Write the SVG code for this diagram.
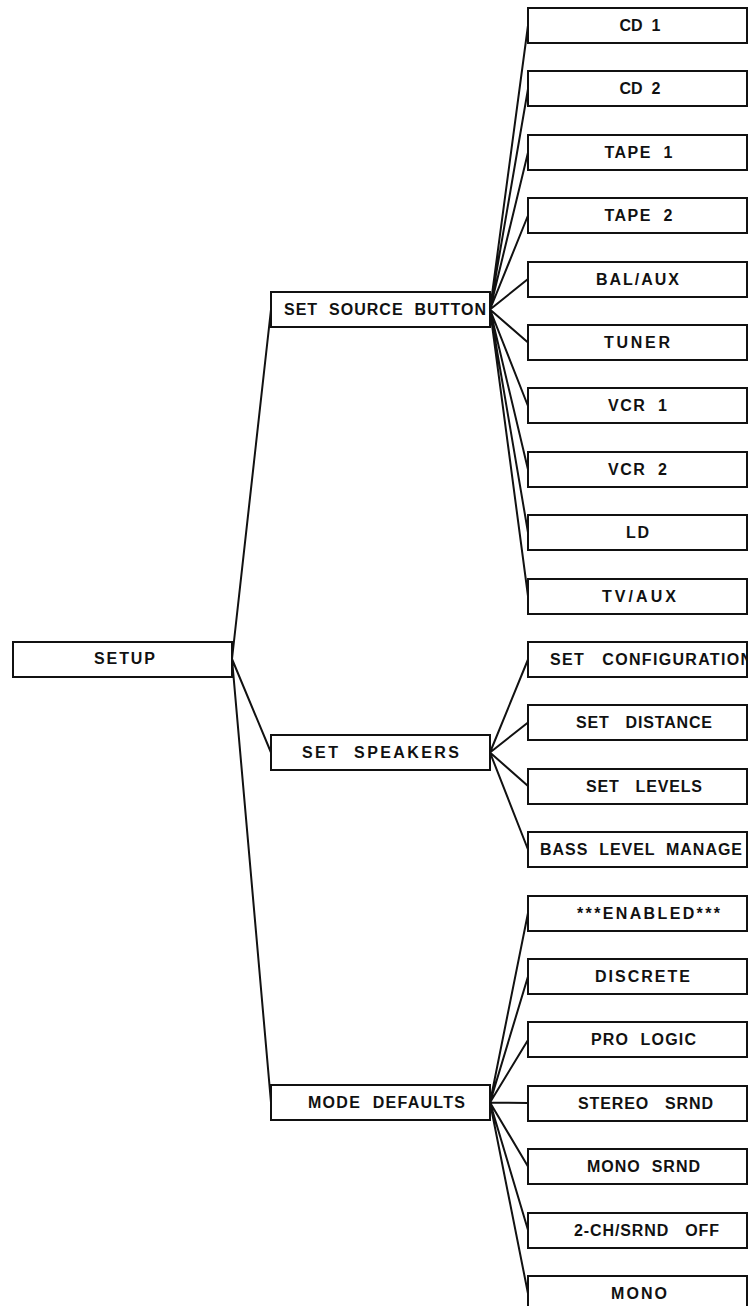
<svg xmlns="http://www.w3.org/2000/svg" width="748" height="1306" viewBox="0 0 748 1306">
<style>
.box{fill:#fff;stroke:#111;stroke-width:2}
.t{font-family:"Liberation Sans",Arial,sans-serif;font-weight:bold;font-size:16px;fill:#111;white-space:pre;text-anchor:middle}
.ts{text-anchor:start}
.c{stroke:#111;stroke-width:2;fill:none}
</style>
<defs>
<clipPath id="clipR"><rect x="529" y="0" width="217" height="1306"/></clipPath>
</defs>
<g id="connectors">
<path class="c" d="M232 659L271 309.5M232 659L271 752.5M232 659L271 1102.5"/>
<path class="c" d="M490 309.5L528 25.5M490 309.5L528 89M490 309.5L528 152.5M490 309.5L528 215.5M490 309.5L528 279M490 309.5L528 342.5M490 309.5L528 406M490 309.5L528 469.5M490 309.5L528 532.5M490 309.5L528 596"/>
<path class="c" d="M490 752.5L528 659.5M490 752.5L528 722.5M490 752.5L528 786M490 752.5L528 849.5"/>
<path class="c" d="M490 1102.5L528 913M490 1102.5L528 976.5M490 1102.5L528 1040M490 1102.5L528 1103M490 1102.5L528 1166.5M490 1102.5L528 1230M490 1102.5L528 1293.5"/>
</g>
<g id="setup"><rect class="box" x="13" y="642" width="219" height="35"/><text class="t" x="124.5" y="663.5" textLength="61">SETUP</text></g>
<g id="set-source-button"><rect class="box" x="271" y="292" width="219" height="35"/><text class="t" x="385" y="314.5" textLength="202">SET  SOURCE  BUTTON</text></g>
<g id="set-speakers"><rect class="box" x="271" y="735" width="219" height="35"/><text class="t" x="380.5" y="757.5" textLength="157">SET  SPEAKERS</text></g>
<g id="mode-defaults"><rect class="box" x="271" y="1085" width="219" height="35"/><text class="t" x="386.5" y="1107.5" textLength="157">MODE  DEFAULTS</text></g>
<g id="cd1"><rect class="box" x="528" y="8" width="219" height="35"/><text class="t" x="640" y="30.5" textLength="41">CD  1</text></g>
<g id="cd2"><rect class="box" x="528" y="71" width="219" height="35"/><text class="t" x="640" y="93.5" textLength="41">CD  2</text></g>
<g id="tape1"><rect class="box" x="528" y="135" width="219" height="35"/><text class="t" x="638.5" y="157.5" textLength="68">TAPE  1</text></g>
<g id="tape2"><rect class="box" x="528" y="198" width="219" height="35"/><text class="t" x="638.5" y="220.5" textLength="68">TAPE  2</text></g>
<g id="bal-aux"><rect class="box" x="528" y="262" width="219" height="35"/><text class="t" x="637.5" y="284.5" textLength="83">BAL/AUX</text></g>
<g id="tuner"><rect class="box" x="528" y="325" width="219" height="35"/><text class="t" x="637" y="347.5" textLength="66">TUNER</text></g>
<g id="vcr1"><rect class="box" x="528" y="388" width="219" height="35"/><text class="t" x="637.5" y="410.5" textLength="59">VCR  1</text></g>
<g id="vcr2"><rect class="box" x="528" y="452" width="219" height="35"/><text class="t" x="637.5" y="474.5" textLength="59">VCR  2</text></g>
<g id="ld"><rect class="box" x="528" y="515" width="219" height="35"/><text class="t" x="637.5" y="537.5" textLength="23">LD</text></g>
<g id="tv-aux"><rect class="box" x="528" y="579" width="219" height="35"/><text class="t" x="639" y="601.5" textLength="74">TV/AUX</text></g>
<g id="set-configuration"><rect class="box" x="528" y="642" width="219" height="35"/><text class="t ts" x="550" y="664.5" textLength="202" clip-path="url(#clipR)">SET   CONFIGURATION</text></g>
<g id="set-distance"><rect class="box" x="528" y="705" width="219" height="35"/><text class="t" x="644" y="727.5" textLength="136">SET   DISTANCE</text></g>
<g id="set-levels"><rect class="box" x="528" y="769" width="219" height="35"/><text class="t" x="644" y="791.5" textLength="116">SET   LEVELS</text></g>
<g id="bass-level-manage"><rect class="box" x="528" y="832" width="219" height="35"/><text class="t" x="641" y="854.5" textLength="202">BASS  LEVEL  MANAGE</text></g>
<g id="enabled"><rect class="box" x="528" y="896" width="219" height="35"/><text class="t" x="648.5" y="918.5" textLength="143">***ENABLED***</text></g>
<g id="discrete"><rect class="box" x="528" y="959" width="219" height="35"/><text class="t" x="642.5" y="981.5" textLength="95">DISCRETE</text></g>
<g id="pro-logic"><rect class="box" x="528" y="1022" width="219" height="35"/><text class="t" x="643.5" y="1044.5" textLength="105">PRO  LOGIC</text></g>
<g id="stereo-srnd"><rect class="box" x="528" y="1086" width="219" height="35"/><text class="t" x="645.5" y="1108.5" textLength="135">STEREO   SRND</text></g>
<g id="mono-srnd"><rect class="box" x="528" y="1149" width="219" height="35"/><text class="t" x="643.5" y="1171.5" textLength="113">MONO  SRND</text></g>
<g id="2ch-srnd-off"><rect class="box" x="528" y="1213" width="219" height="35"/><text class="t" x="646.5" y="1235.5" textLength="145">2-CH/SRND   OFF</text></g>
<g id="mono"><rect class="box" x="528" y="1276" width="219" height="35"/><text class="t" x="639" y="1298.5" textLength="56">MONO</text></g>
</svg>
